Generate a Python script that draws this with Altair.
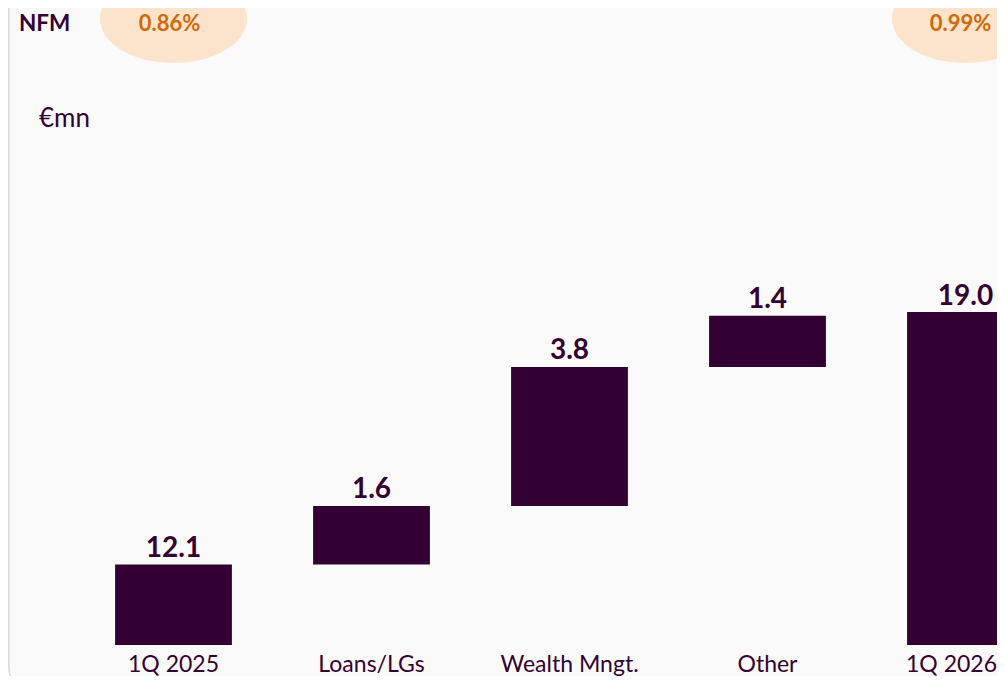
import altair as alt
import pandas as pd

# ---- data ----
categories = ["1Q 2025", "Loans/LGs", "Wealth Mngt.", "Other", "1Q 2026"]
values = [12.1, 1.6, 3.8, 1.4, 19.0]
kinds = ["total", "delta", "delta", "delta", "total"]
value_labels = ["12.1", "1.6", "3.8", "1.4", "19.0"]
nfm_categories = ["1Q 2025", "1Q 2026"]
nfm_labels = ["0.86%", "0.99%"]
nfm_title = "NFM"
unit_label = "€mn"
axis_floor = 9.9  # value at the bottom of the (truncated) value axis

# ---- waterfall table ----
starts, ends = [], []
running = 0.0
for v, k in zip(values, kinds):
    if k == "total":
        starts.append(axis_floor)
        ends.append(v)
        running = v
    else:
        starts.append(running)
        running += v
        ends.append(running)

df = pd.DataFrame({"cat": categories, "start": starts, "end": ends, "label": value_labels})
df_inner = df[df["cat"] != categories[-1]]
df_last = df[df["cat"] == categories[-1]]
nfm_df = pd.DataFrame({"cat": nfm_categories, "label": nfm_labels})
nfm_first = nfm_df[nfm_df["cat"] == nfm_categories[0]]
nfm_last = nfm_df[nfm_df["cat"] == nfm_categories[-1]]

BAR = "#330033"
TEXT = "#330033"
PEACH = "#FCE4CC"
ORANGE = "#D06A0A"
FONT = "Lato"

xscale = alt.Scale(domain=categories, range=[66.5, 1056.5], paddingInner=0.41, paddingOuter=0.205)
yscale = alt.Scale(domain=[axis_floor, 19.0], range=[637, 304])
X = alt.X("cat:N", scale=xscale, axis=None, sort=categories)

one = alt.Data(values=[{}])

panel = alt.Chart(one).mark_rect(
    fill="#FAFAFA", stroke="#D9D9D9", strokeWidth=1.5, cornerRadius=40
).encode(x=alt.value(0.75), x2=alt.value(1300), y=alt.value(-120), y2=alt.value(697))

ellipse_path = ("M-1,0 C-1,-0.331 -0.552,-0.6 0,-0.6 C0.552,-0.6 1,-0.331 1,0 "
                "C1,0.331 0.552,0.6 0,0.6 C-0.552,0.6 -1,0.331 -1,0 Z")
ellipses = alt.Chart(nfm_df).mark_point(
    shape=ellipse_path, filled=True, fill=PEACH, opacity=1, strokeWidth=0, size=147 * 147
).encode(x=X, y=alt.value(11))

nfm_text_style = dict(font=FONT, fontSize=22, fontWeight="bold", color=ORANGE,
                      align="center", baseline="alphabetic")
nfm_text1 = alt.Chart(nfm_first).mark_text(**nfm_text_style, dx=-4).encode(
    x=X, y=alt.value(22.5), text="label:N")
nfm_text2 = alt.Chart(nfm_last).mark_text(**nfm_text_style, dx=-5).encode(
    x=X, y=alt.value(22.5), text="label:N")

nfm_title_text = alt.Chart(one).mark_text(
    text=nfm_title, font=FONT, fontSize=22.5, fontWeight="bold", color=TEXT, align="left", baseline="alphabetic"
).encode(x=alt.value(11), y=alt.value(22.5))

unit_text = alt.Chart(one).mark_text(
    text=unit_label, font=FONT, fontSize=26, color=TEXT, align="left", baseline="alphabetic"
).encode(x=alt.value(31), y=alt.value(119))

bars = alt.Chart(df).mark_bar(color=BAR).encode(
    x=X,
    y=alt.Y("start:Q", scale=yscale, axis=None),
    y2="end:Q",
)

bar_labels = alt.Chart(df).mark_text(
    font=FONT, fontSize=28, fontWeight="bold", color=TEXT, align="center", baseline="alphabetic", dy=-7.5
).encode(x=X, y=alt.Y("end:Q", scale=yscale, axis=None), text="label:N")

cat_style = dict(font=FONT, fontSize=23, color=TEXT, align="center", baseline="alphabetic")
cat_labels = alt.Chart(df_inner).mark_text(**cat_style).encode(
    x=X, y=alt.value(664), text="cat:N")
cat_label_last = alt.Chart(df_last).mark_text(**cat_style, dx=-14).encode(
    x=X, y=alt.value(664), text="cat:N")

chart = alt.layer(
    panel, ellipses, nfm_text1, nfm_text2, nfm_title_text, unit_text,
    bars, bar_labels, cat_labels, cat_label_last
).properties(
    width=989, height=668, autosize=alt.AutoSizeParams(type="none"), padding=0, background="white"
).configure_view(stroke=None)

chart.save("out.html", embed_options={"renderer": "svg", "actions": False})
